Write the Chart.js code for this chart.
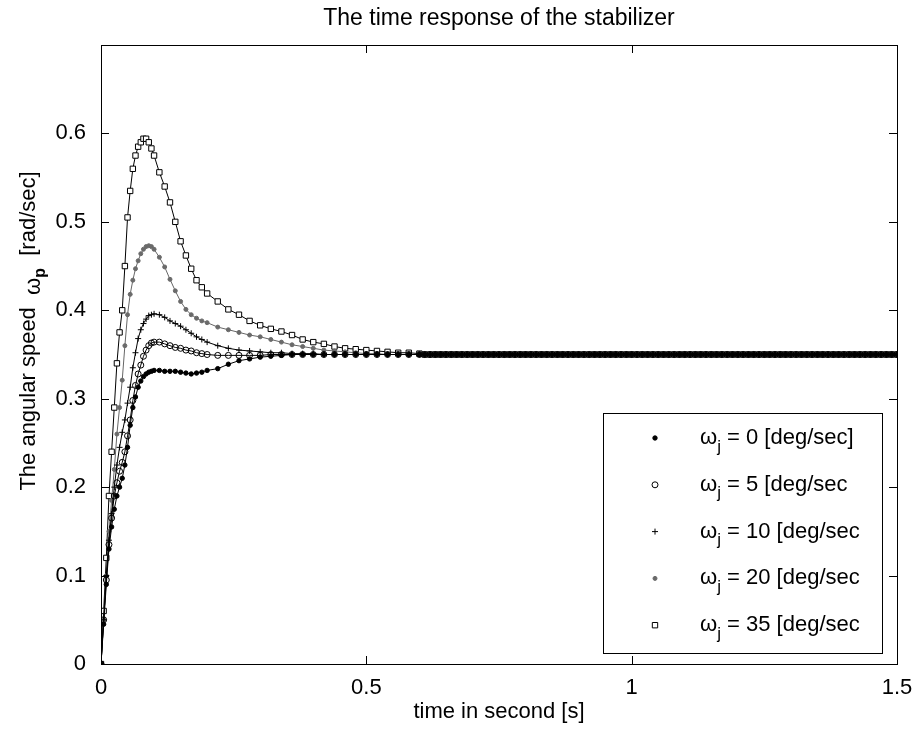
<!DOCTYPE html>
<html>
<head>
<meta charset="utf-8">
<title>The time response of the stabilizer</title>
<script src="https://cdn.jsdelivr.net/npm/chart.js@4.4.1/dist/chart.umd.min.js"></script>
<style>
  html, body { margin: 0; padding: 0; background: #fff; }
  #chart { display: block; }
</style>
</head>
<body>
<canvas id="chart" width="915" height="734"></canvas>
<script>
// time samples [s]
const time = [
  0, 0.005, 0.01, 0.015, 0.02, 0.025, 0.03, 0.035, 0.04, 0.045, 0.05, 0.055, 0.06, 0.065, 0.07, 0.075, 0.08, 0.085, 0.09, 0.095, 0.1,
  0.11, 0.12, 0.13, 0.14, 0.15, 0.16, 0.17, 0.18, 0.19, 0.2,
  0.22, 0.24, 0.26, 0.28, 0.3, 0.32, 0.34, 0.36, 0.38, 0.4, 0.42, 0.44, 0.46, 0.48, 0.5, 0.52, 0.54, 0.56, 0.58, 0.6,
  0.61, 0.62, 0.63, 0.64, 0.65, 0.66, 0.67, 0.68, 0.69, 0.7, 0.71, 0.72, 0.73, 0.74, 0.75, 0.76, 0.77, 0.78, 0.79, 0.8,
  0.81, 0.82, 0.83, 0.84, 0.85, 0.86, 0.87, 0.88, 0.89, 0.9, 0.91, 0.92, 0.93, 0.94, 0.95, 0.96, 0.97, 0.98, 0.99, 1,
  1.01, 1.02, 1.03, 1.04, 1.05, 1.06, 1.07, 1.08, 1.09, 1.1, 1.11, 1.12, 1.13, 1.14, 1.15, 1.16, 1.17, 1.18, 1.19, 1.2,
  1.21, 1.22, 1.23, 1.24, 1.25, 1.26, 1.27, 1.28, 1.29, 1.3, 1.31, 1.32, 1.33, 1.34, 1.35, 1.36, 1.37, 1.38, 1.39, 1.4,
  1.41, 1.42, 1.43, 1.44, 1.45, 1.46, 1.47, 1.48, 1.49, 1.5
];

// steady state part (t = 0.61 .. 1.5), same for every case
const settled = [
  0.35, 0.35, 0.35, 0.35, 0.35, 0.35, 0.35, 0.35, 0.35, 0.35, 0.35, 0.35, 0.35, 0.35, 0.35, 0.35, 0.35, 0.35,
  0.35, 0.35, 0.35, 0.35, 0.35, 0.35, 0.35, 0.35, 0.35, 0.35, 0.35, 0.35, 0.35, 0.35, 0.35, 0.35, 0.35, 0.35,
  0.35, 0.35, 0.35, 0.35, 0.35, 0.35, 0.35, 0.35, 0.35, 0.35, 0.35, 0.35, 0.35, 0.35, 0.35, 0.35, 0.35, 0.35,
  0.35, 0.35, 0.35, 0.35, 0.35, 0.35, 0.35, 0.35, 0.35, 0.35, 0.35, 0.35, 0.35, 0.35, 0.35, 0.35, 0.35, 0.35,
  0.35, 0.35, 0.35, 0.35, 0.35, 0.35, 0.35, 0.35, 0.35, 0.35, 0.35, 0.35, 0.35, 0.35, 0.35, 0.35, 0.35, 0.35
];

// angular speed [rad/sec], t = 0 .. 0.6
const w0 = [
  0, 0.045, 0.09, 0.13, 0.155, 0.175, 0.19, 0.2, 0.21, 0.225, 0.245, 0.27, 0.29, 0.302, 0.313, 0.32, 0.325, 0.328, 0.33, 0.331, 0.332,
  0.332, 0.331, 0.331, 0.331, 0.33, 0.329, 0.328, 0.329, 0.33, 0.332,
  0.334, 0.339, 0.343, 0.345, 0.347, 0.348, 0.349, 0.35, 0.35, 0.35, 0.35, 0.35, 0.35, 0.35, 0.35, 0.35, 0.35, 0.35, 0.35, 0.35
];
const w5 = [
  0, 0.05, 0.095, 0.135, 0.165, 0.19, 0.205, 0.218, 0.228, 0.24, 0.258, 0.276, 0.298, 0.315, 0.328, 0.338, 0.348, 0.355, 0.36, 0.363, 0.364,
  0.364, 0.362, 0.36, 0.358, 0.357, 0.355, 0.354, 0.352, 0.351, 0.35,
  0.349, 0.349, 0.349, 0.349, 0.349, 0.35, 0.35, 0.35, 0.35, 0.35, 0.35, 0.35, 0.35, 0.35, 0.35, 0.35, 0.35, 0.35, 0.35, 0.35
];
const w10 = [
  0, 0.05, 0.1, 0.14, 0.17, 0.2, 0.225, 0.245, 0.262, 0.276, 0.295, 0.313, 0.335, 0.352, 0.368, 0.378, 0.385, 0.39, 0.394, 0.395, 0.396,
  0.395, 0.392, 0.388, 0.385, 0.382, 0.378, 0.374, 0.37, 0.367, 0.364,
  0.36, 0.357, 0.355, 0.354, 0.353, 0.352, 0.352, 0.351, 0.351, 0.351, 0.35, 0.35, 0.35, 0.35, 0.35, 0.35, 0.35, 0.35, 0.35, 0.35
];
const w20 = [
  0, 0.05, 0.1, 0.15, 0.185, 0.22, 0.26, 0.29, 0.321, 0.36, 0.395, 0.418, 0.434, 0.447, 0.456, 0.464, 0.469, 0.472, 0.473, 0.472, 0.469,
  0.46, 0.449, 0.435, 0.422, 0.41, 0.401, 0.395, 0.391, 0.388, 0.386,
  0.381, 0.378, 0.375, 0.372, 0.37, 0.367, 0.364, 0.361, 0.359, 0.357, 0.355, 0.354, 0.353, 0.352, 0.351, 0.351, 0.35, 0.35, 0.35, 0.35
];
const w35 = [
  0, 0.06, 0.12, 0.19, 0.24, 0.29, 0.34, 0.375, 0.4, 0.45, 0.505, 0.535, 0.56, 0.575, 0.585, 0.59, 0.594, 0.594, 0.59, 0.583, 0.575,
  0.556, 0.54, 0.522, 0.5, 0.478, 0.462, 0.447, 0.434, 0.426, 0.419,
  0.41, 0.401, 0.395, 0.388, 0.383, 0.379, 0.376, 0.372, 0.367, 0.364, 0.362, 0.359, 0.357, 0.356, 0.355, 0.354, 0.353, 0.352, 0.352, 0.351
];

const legendTails = [' = 0 [deg/sec]', ' = 5 [deg/sec', ' = 10 [deg/sec', ' = 20 [deg/sec', ' = 35 [deg/sec'];
const xTicks = [0, 0.5, 1, 1.5];
const yTicks = [0, 0.1, 0.2, 0.3, 0.4, 0.5, 0.6];

const FONT = "'Liberation Sans', Arial, sans-serif";

function points(values) {
  return values.concat(settled).map((v, i) => ({ x: time[i], y: v }));
}

function series(label, values, style) {
  return Object.assign({
    label: label,
    data: points(values),
    showLine: true,
    borderWidth: 1,
    pointBorderWidth: 1
  }, style);
}

const datasets = [
  series('0', w0, { borderColor: '#000', pointStyle: 'circle', pointRadius: 2.2, pointBackgroundColor: '#000', pointBorderColor: '#000' }),
  series('5', w5, { borderColor: '#000', pointStyle: 'circle', pointRadius: 3, pointBackgroundColor: 'rgba(0,0,0,0)', pointBorderColor: '#000' }),
  series('10', w10, { borderColor: '#000', pointStyle: 'cross', pointRadius: 3, pointBorderColor: '#000' }),
  series('20', w20, { borderColor: '#666', pointStyle: 'circle', pointRadius: 2, pointBackgroundColor: '#6a6a6a', pointBorderColor: '#6a6a6a' }),
  series('35', w35, { borderColor: '#000', pointStyle: 'rect', pointRadius: 3.8, pointBackgroundColor: '#fff', pointBorderColor: '#000' })
];

// box, inward ticks on all four sides, title and axis labels
const framePlugin = {
  id: 'frame',
  afterDraw(chart) {
    const { ctx, chartArea: a, scales } = chart;
    const x = scales.x, y = scales.y;
    ctx.save();
    ctx.strokeStyle = '#000';
    ctx.lineWidth = 1;
    ctx.strokeRect(Math.round(a.left) + 0.5, Math.round(a.top) + 0.5, Math.round(a.right - a.left), Math.round(a.bottom - a.top));
    ctx.beginPath();
    xTicks.forEach(v => {
      const px = Math.round(x.getPixelForValue(v)) + 0.5;
      ctx.moveTo(px, a.bottom); ctx.lineTo(px, a.bottom - 8);
      ctx.moveTo(px, a.top); ctx.lineTo(px, a.top + 8);
    });
    yTicks.forEach(v => {
      const py = Math.round(y.getPixelForValue(v)) + 0.5;
      ctx.moveTo(a.left, py); ctx.lineTo(a.left + 8, py);
      ctx.moveTo(a.right, py); ctx.lineTo(a.right - 8, py);
    });
    ctx.stroke();

    ctx.fillStyle = '#000';
    ctx.textAlign = 'center';
    ctx.textBaseline = 'middle';
    ctx.font = '23px ' + FONT;
    ctx.fillText('The time response of the stabilizer', (a.left + a.right) / 2, 19);
    ctx.font = '22px ' + FONT;
    ctx.fillText('time in second [s]', (a.left + a.right) / 2, 712);

    // y label with subscript
    ctx.translate(27, 0);
    ctx.rotate(-Math.PI / 2);
    ctx.textAlign = 'left';
    ctx.textBaseline = 'alphabetic';
    const parts = [
      { t: 'The angular speed  ', f: '22px ' + FONT, dy: 0 },
      { t: 'ω', f: '22px ' + FONT, dy: 5 },
      { t: 'p', f: 'bold 16px ' + FONT, dy: 10 },
      { t: '  [rad/sec]', f: '22px ' + FONT, dy: 0 }
    ];
    let total = 0;
    parts.forEach(p => { ctx.font = p.f; total += ctx.measureText(p.t).width; });
    let cx = -331 - total / 2;
    parts.forEach(p => {
      ctx.font = p.f;
      ctx.fillText(p.t, cx, 8 + p.dy);
      cx += ctx.measureText(p.t).width;
    });
    ctx.restore();
  }
};

// MATLAB style legend box
const legendPlugin = {
  id: 'boxLegend',
  afterDraw(chart) {
    const ctx = chart.ctx;
    const left = 603, top = 413, right = 882, bottom = 653;
    ctx.save();
    ctx.fillStyle = '#fff';
    ctx.fillRect(left, top, right - left, bottom - top);
    ctx.strokeStyle = '#000';
    ctx.lineWidth = 1;
    ctx.strokeRect(left + 0.5, top + 0.5, right - left, bottom - top);
    chart.data.datasets.forEach((ds, i) => {
      const yy = 438 + i * 46.8;
      ctx.fillStyle = ds.pointBackgroundColor || '#000';
      ctx.strokeStyle = ds.pointBorderColor;
      ctx.lineWidth = 1;
      Chart.helpers.drawPoint(ctx, { pointStyle: ds.pointStyle, radius: ds.pointRadius, rotation: 0, borderWidth: 1 }, 655, yy);
      ctx.fillStyle = '#000';
      ctx.textBaseline = 'middle';
      ctx.textAlign = 'left';
      let tx = 700;
      ctx.font = '22px ' + FONT;
      ctx.fillText('ω', tx, yy);
      tx += ctx.measureText('ω').width;
      ctx.font = '17px ' + FONT;
      ctx.fillText('j', tx, yy + 9);
      tx += ctx.measureText('j').width;
      ctx.font = '22px ' + FONT;
      ctx.fillText(legendTails[i], tx, yy);
    });
    ctx.restore();
  }
};

new Chart(document.getElementById('chart'), {
  type: 'scatter',
  data: { datasets: datasets },
  options: {
    responsive: false,
    animation: false,
    layout: { padding: { top: 45, right: 18, left: 0, bottom: 0 } },
    plugins: { legend: { display: false }, tooltip: { enabled: false } },
    scales: {
      x: {
        type: 'linear', min: 0, max: 1.5,
        afterFit: s => { s.height = 70; s.paddingLeft = 0; s.paddingRight = 0; },
        afterBuildTicks: s => { s.ticks = xTicks.map(v => ({ value: v })); },
        grid: { display: false }, border: { display: false },
        ticks: { color: '#000', font: { family: FONT, size: 22 }, padding: 3, maxRotation: 0, autoSkip: false,
                 callback: v => String(Number(v.toFixed(2))) }
      },
      y: {
        type: 'linear', min: 0, max: 0.7,
        afterFit: s => { s.width = 101; },
        afterBuildTicks: s => { s.ticks = yTicks.map(v => ({ value: v })); },
        grid: { display: false }, border: { display: false },
        ticks: { color: '#000', font: { family: FONT, size: 22 }, padding: 7, autoSkip: false,
                 callback: v => String(Number(v.toFixed(2))) }
      }
    }
  },
  plugins: [framePlugin, legendPlugin]
});
</script>
</body>
</html>
